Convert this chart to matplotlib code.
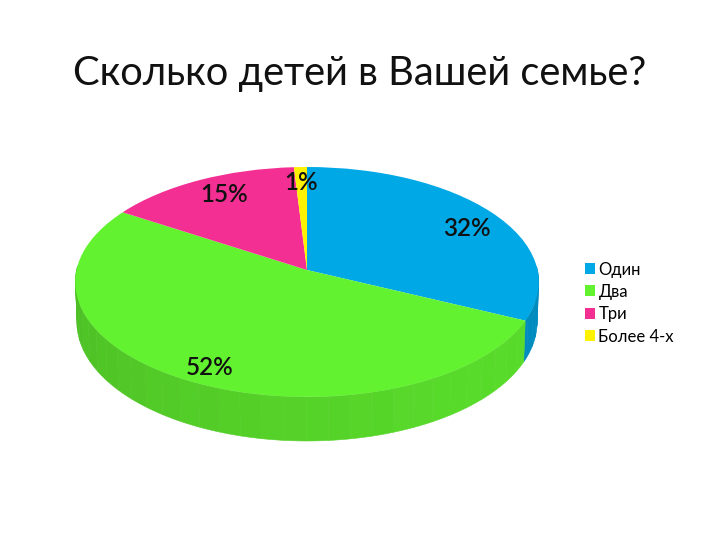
import numpy as np
import matplotlib
matplotlib.use("Agg")
import matplotlib.pyplot as plt
from matplotlib.transforms import Transform
from matplotlib.patches import Polygon

categories = ["Один", "Два", "Три", "Более 4-х"]
values = [32, 52, 15, 1]
pct_labels = ["32%", "52%", "15%", "1%"]
colors = ["#00a8e6", "#62f22f", "#f42f93", "#fff200"]
title = "Сколько детей в Вашей семье?"

plt.rcParams["font.family"] = ["Lato", "Open Sans", "DejaVu Sans"]

CX, CY, SX, A, K = 307.0, 270.0, 230.5, 113.7, 0.104


class Persp(Transform):
    input_dims = output_dims = 2
    has_inverse = False

    def transform_non_affine(self, xy):
        xy = np.asarray(xy, float)
        w = 1 + K * xy[:, 1]
        return np.column_stack([CX + SX * xy[:, 0] / w, CY - A * xy[:, 1] / w])


fig = plt.figure(figsize=(7.2, 5.4), dpi=100)
ax = fig.add_axes([0, 0, 1, 1])

persp = Persp()
wedges, _ = ax.pie(
    values, colors=colors, startangle=90, counterclock=False, radius=1,
    wedgeprops=dict(transform=persp + ax.transData, linewidth=0, zorder=5),
)
ax.set_aspect("auto")
ax.set_xlim(0, 720)
ax.set_ylim(540, 0)
ax.axis("off")

# side wall of the disc
def rim(theta):
    u, v = np.sin(theta), np.cos(theta)
    p = persp.transform_non_affine(np.column_stack([u, v]))
    return p, v


def shade(c, deg):
    rgb = np.array(matplotlib.colors.to_rgb(c))
    f = 0.78 + 0.12 * np.clip((270 - deg) / 130, 0, 1) + 0.006 * ((deg // 5) % 2)
    return tuple(rgb * f)


cum = np.cumsum([0] + values) * 3.6
for i in range(len(values)):
    a0, a1 = cum[i], cum[i + 1]
    a0c, a1c = max(a0, 88), min(a1, 272)
    if a1c <= a0c:
        continue
    edges = np.arange(a0c, a1c + 5, 5.0)
    edges[-1] = a1c
    for s, e in zip(edges[:-1], edges[1:]):
        if e <= s:
            continue
        th = np.radians(np.linspace(s, e, 6))
        top, v = rim(th)
        bot = top.copy()
        bot[:, 1] += 39.5 / (1 + K * v)
        bot[:, 0] = CX + (bot[:, 0] - CX) * 0.993
        poly = np.vstack([top, bot[::-1]])
        base = colors[i]
        col = shade(base, s)
        if i == 0:
            col = tuple(np.array(matplotlib.colors.to_rgb(base)) * 0.83)
        ax.add_patch(Polygon(poly, closed=True, facecolor=col, edgecolor=col, lw=0.4, zorder=2))

ax.text(360, 85, title, ha="center", va="baseline", fontsize=28.7, color="#111111", zorder=9)

label_pos = [(467, 236), (210, 375), (224, 202), (301, 190)]
for (x, y), t in zip(label_pos, pct_labels):
    ax.text(x, y, t, ha="center", va="baseline", fontsize=17.5, fontweight="semibold", color="#111111", zorder=9)

leg = ax.legend(
    wedges, categories, loc="upper left", bbox_to_anchor=(582 / 720, 1 - 259 / 540),
    frameon=False, fontsize=12, handlelength=0.64, handleheight=0.64, handletextpad=0.2,
    labelspacing=0.38, borderpad=0.15, borderaxespad=0,
)
fig.savefig("out.png", dpi=100)
